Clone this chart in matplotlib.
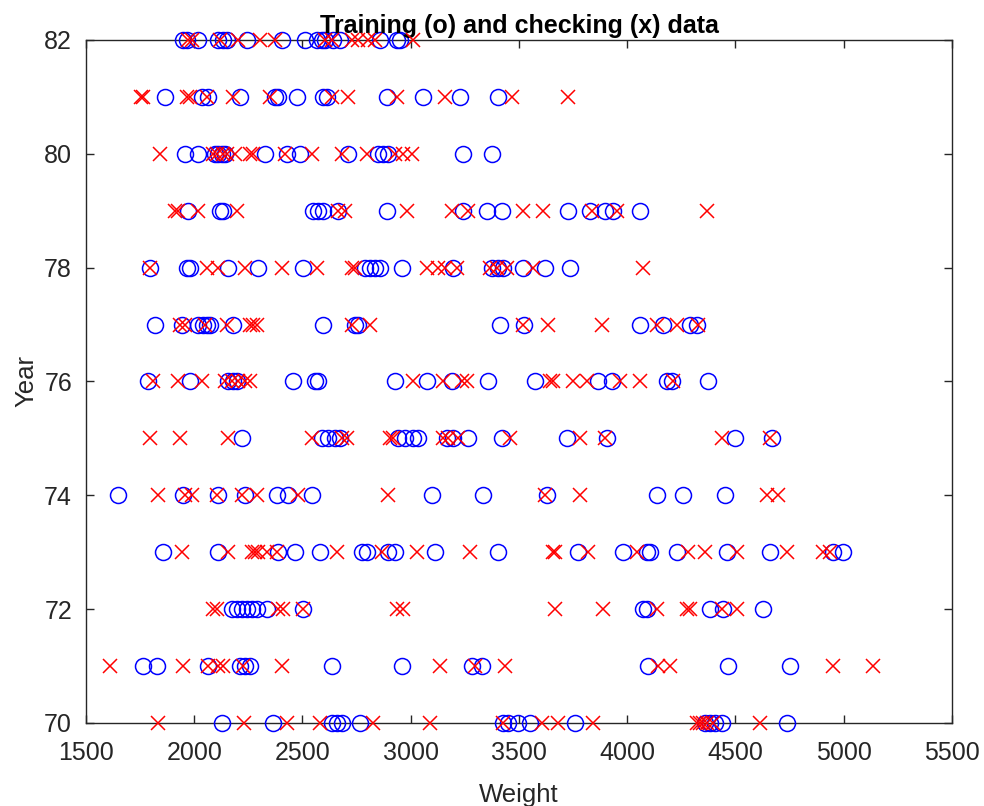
import numpy as np
import matplotlib
matplotlib.use("Agg")
import matplotlib.pyplot as plt

# Weight values per model year, training (o) and checking (x)
trn_82 = [1950, 1965, 2019, 2111, 2134, 2150, 2242, 2404, 2512, 2566, 2589, 2604, 2643, 2673, 2858, 2935, 2950]
chk_82 = [1973, 1988, 2119, 2204, 2304, 2373, 2604, 2635, 2727, 2758, 2804, 2835, 3012]
trn_81 = [1865, 2034, 2065, 2211, 2373, 2389, 2473, 2596, 2612, 2889, 3058, 3228, 3405]
chk_81 = [1752, 1762, 1965, 1980, 2057, 2181, 2350, 2635, 2712, 2935, 3158, 3470, 3728]
trn_80 = [1957, 2019, 2096, 2111, 2127, 2142, 2327, 2427, 2489, 2712, 2850, 2874, 2897, 3243, 3374]
chk_80 = [1842, 2088, 2104, 2134, 2150, 2188, 2258, 2273, 2419, 2542, 2681, 2797, 2928, 2966, 3005]
trn_79 = [1973, 2119, 2134, 2550, 2573, 2596, 2666, 2889, 3243, 3351, 3420, 3728, 3828, 3897, 3936, 4059]
chk_79 = [1911, 1927, 2019, 2196, 2666, 2697, 2981, 3189, 3266, 3520, 3612, 3836, 3951, 4367]
trn_78 = [1796, 1965, 1980, 2158, 2296, 2504, 2789, 2812, 2835, 2858, 2958, 3197, 3374, 3405, 3428, 3520, 3620, 3736]
chk_78 = [1796, 2057, 2111, 2235, 2404, 2566, 2727, 2743, 3074, 3128, 3158, 3212, 3366, 3397, 3443, 3566, 4074]
trn_77 = [1819, 1942, 2019, 2042, 2057, 2073, 2181, 2596, 2743, 2758, 3412, 3525, 4059, 4167, 4290, 4321]
chk_77 = [1934, 1957, 2050, 2150, 2258, 2273, 2288, 2727, 2812, 3520, 3636, 3882, 4136, 4228, 4325]
trn_76 = [1788, 1980, 2158, 2181, 2196, 2458, 2558, 2573, 2928, 3074, 3189, 3359, 3574, 3867, 3928, 4182, 4205, 4375]
chk_76 = [1811, 1927, 2034, 2142, 2173, 2204, 2235, 2258, 3012, 3151, 3235, 3258, 3643, 3659, 3751, 3813, 3967, 4059, 4213]
trn_75 = [2219, 2589, 2619, 2650, 2673, 2943, 2974, 3012, 3035, 3166, 3197, 3266, 3420, 3720, 3905, 4498, 4667]
chk_75 = [1796, 1934, 2158, 2542, 2681, 2704, 2904, 2920, 3151, 3174, 3220, 3459, 3782, 3897, 4436, 4660]
trn_74 = [1649, 1950, 2111, 2235, 2381, 2435, 2542, 3097, 3335, 3628, 4136, 4259, 4452]
chk_74 = [1834, 1957, 1988, 2104, 2219, 2288, 2481, 2897, 3620, 3782, 4644, 4698]
trn_73 = [1857, 2111, 2389, 2466, 2581, 2774, 2797, 2897, 2928, 3112, 3405, 3774, 3982, 4090, 4105, 4228, 4459, 4660, 4952, 4998]
chk_73 = [1942, 2158, 2265, 2281, 2296, 2335, 2381, 2658, 2866, 3028, 3274, 3655, 3665, 3820, 4044, 4282, 4359, 4506, 4737, 4906, 4937]
trn_72 = [2173, 2196, 2219, 2242, 2265, 2288, 2335, 2504, 4074, 4090, 4382, 4444, 4629]
chk_72 = [2088, 2104, 2389, 2412, 2504, 2935, 2966, 3666, 3890, 4136, 4275, 4290, 4436, 4506]
trn_71 = [1765, 1826, 2065, 2211, 2235, 2258, 2635, 2958, 3282, 3328, 4097, 4467, 4752]
chk_71 = [1611, 1950, 2065, 2111, 2134, 2227, 2404, 3135, 3297, 3436, 4144, 4198, 4952, 5137]
trn_70 = [2127, 2365, 2635, 2658, 2681, 2766, 3428, 3451, 3497, 3551, 3759, 4359, 4382, 4405, 4436, 4737]
chk_70 = [1834, 2231, 2427, 2581, 2827, 3089, 3428, 3605, 3682, 3843, 4321, 4336, 4352, 4367, 4398, 4613]

years = [70, 71, 72, 73, 74, 75, 76, 77, 78, 79, 80, 81, 82]
trn_rows = [trn_70, trn_71, trn_72, trn_73, trn_74, trn_75, trn_76, trn_77, trn_78, trn_79, trn_80, trn_81, trn_82]
chk_rows = [chk_70, chk_71, chk_72, chk_73, chk_74, chk_75, chk_76, chk_77, chk_78, chk_79, chk_80, chk_81, chk_82]

trn_x = np.concatenate([np.array(r, float) for r in trn_rows])
trn_y = np.concatenate([np.full(len(r), yr) for r, yr in zip(trn_rows, years)])
chk_x = np.concatenate([np.array(r, float) for r in chk_rows])
chk_y = np.concatenate([np.full(len(r), yr) for r, yr in zip(chk_rows, years)])

plt.rcParams['font.family'] = ['Liberation Sans', 'DejaVu Sans']
edge = '#262626'

fig = plt.figure(figsize=(9.84, 8.06), dpi=100)
ax = fig.add_axes([0.0874, 0.103, 0.88, 0.8474])

ax.plot(trn_x, trn_y, 'o', color='blue', mfc='none', ms=11.5, mew=1.1, clip_on=False, zorder=3)
ax.plot(chk_x, chk_y, 'x', color='red', ms=10.5, mew=1.1, clip_on=False, zorder=4)

ax.set_xlim(1500, 5500)
ax.set_ylim(70, 82)
ax.set_xticks(np.arange(1500, 5501, 500))
ax.set_yticks(np.arange(70, 83, 2))

for s in ax.spines.values():
    s.set_color(edge)
    s.set_linewidth(1.0)
ax.tick_params(direction='in', length=6, width=1.0, colors=edge, labelsize=18,
               top=True, right=True)
ax.tick_params(axis='x', pad=13)
ax.tick_params(axis='y', pad=10)

ax.set_xlabel('Weight', fontsize=18.5, color=edge, labelpad=13)
ax.set_ylabel('Year', fontsize=18.5, color=edge, labelpad=4)
ax.set_title('Training (o) and checking (x) data', fontsize=18, fontweight='bold',
             color='black', pad=5)

fig.savefig('out.png', dpi=100)
